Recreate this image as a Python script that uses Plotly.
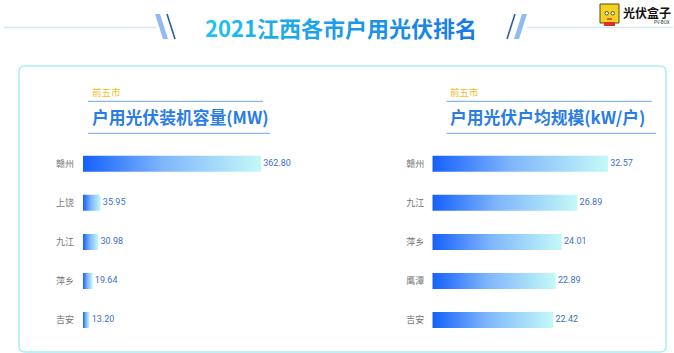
import plotly.graph_objects as go

W, H = 674, 353

# ---- data ----
title_text = "2021江西各市户用光伏排名"
sub_tag = "前五市"
left_title = "户用光伏装机容量(MW)"
left_cities = ["赣州", "上饶", "九江", "萍乡", "吉安"]
left_values = [362.80, 35.95, 30.98, 19.64, 13.20]
right_title = "户用光伏户均规模(kW/户)"
right_cities = ["赣州", "九江", "萍乡", "鹰潭", "吉安"]
right_values = [32.57, 26.89, 24.01, 22.89, 22.42]


def px(x):
    return x / W


def py(y):
    return 1 - y / H


FONT = "Noto Sans CJK SC, Roboto, sans-serif"
NUMFONT = "Roboto, Noto Sans, sans-serif"
grad = [[0, "#1560fb"], [0.45, "#7fb6fb"], [1, "#c4f9f7"]]
HALF = 0.205

fig = go.Figure()


def add_panel(values, cities, xa, ya):
    for i, v in enumerate(values):
        fig.add_trace(go.Scatter(
            x=[0, v, v, 0, 0], y=[i - HALF, i - HALF, i + HALF, i + HALF, i - HALF],
            mode="lines", fill="toself", line=dict(width=0),
            fillgradient=dict(type="horizontal", colorscale=grad),
            xaxis=xa, yaxis=ya, hoverinfo="skip", showlegend=False))
    fig.add_trace(go.Scatter(
        x=values, y=list(range(len(values))), mode="text",
        text=["\u00a0" + f"{v:.2f}" for v in values], textposition="middle right",
        textfont=dict(family=NUMFONT, size=9, color="#3b6fc4"),
        xaxis=xa, yaxis=ya, hoverinfo="skip", showlegend=False))


add_panel(left_values, left_cities, "x", "y")
add_panel(right_values, right_cities, "x2", "y2")

ydom = [py(339.65), py(144.15)]
lx0, lx1 = 83, 330
rx0, rx1 = 432.3, 662
axis_common = dict(showgrid=False, zeroline=False, showline=False, ticks="")
fig.update_layout(
    width=W, height=H, autosize=False,
    margin=dict(l=0, r=0, t=0, b=0),
    paper_bgcolor="white", plot_bgcolor="rgba(0,0,0,0)",
    xaxis=dict(domain=[px(lx0), px(lx1)], range=[0, (lx1 - lx0) / (178 / 362.8)],
               showticklabels=False, **axis_common),
    xaxis2=dict(domain=[px(rx0), px(rx1)], range=[0, (rx1 - rx0) / (175.7 / 32.57)],
                showticklabels=False, **axis_common),
    yaxis=dict(domain=ydom, range=[4.5, -0.5], anchor="x",
               tickvals=list(range(5)), ticktext=left_cities, ticklabelstandoff=8,
               tickfont=dict(family=FONT, size=9, color="#777777"), **axis_common),
    yaxis2=dict(domain=ydom, range=[4.5, -0.5], anchor="x2",
                tickvals=list(range(5)), ticktext=right_cities, ticklabelstandoff=7,
                tickfont=dict(family=FONT, size=9, color="#777777"), **axis_common),
    hovermode=False,
)

shapes = []


def line(x0, y0, x1, y1, color, width=1):
    shapes.append(dict(type="line", xref="paper", yref="paper",
                       x0=px(x0), y0=py(y0), x1=px(x1), y1=py(y1),
                       line=dict(color=color, width=width)))


def poly(pts, color):
    d = "M " + " L ".join(f"{px(a)},{py(b)}" for a, b in pts) + " Z"
    shapes.append(dict(type="path", xref="paper", yref="paper", path=d,
                       fillcolor=color, line=dict(width=0)))


# panel rounded rect
x0, y0, x1, y1, r = 19, 66, 666, 352, 6
rx, ry = r / W, r / H
X0, X1, Y0, Y1 = px(x0), px(x1), py(y0), py(y1)
path = (f"M {X0+rx},{Y0} L {X1-rx},{Y0} Q {X1},{Y0} {X1},{Y0-ry} "
        f"L {X1},{Y1+ry} Q {X1},{Y1} {X1-rx},{Y1} L {X0+rx},{Y1} "
        f"Q {X0},{Y1} {X0},{Y1+ry} L {X0},{Y0-ry} Q {X0},{Y0} {X0+rx},{Y0} Z")
shapes.append(dict(type="path", xref="paper", yref="paper", path=path,
                   line=dict(color="#a9eef4", width=1.5), layer="below"))

# header lines
line(4, 27.5, 156, 27.5, "#d3e9f2", 1.5)
line(527, 27.5, 673, 27.5, "#d3e9f2", 1.5)
# slashes
poly([(155, 14), (160, 14), (168, 39), (163, 39)], "#8fbaf4")
line(167, 14, 175, 39, "#2d5f9e", 1.6)
line(515, 14, 507, 39, "#2d5f9e", 1.6)
poly([(522, 14), (527, 14), (519, 39), (514, 39)], "#8fbaf4")

# section title lines
line(88, 101.3, 263, 101.3, "#6fa6ea", 1)
line(88, 133.3, 270, 133.3, "#6fa6ea", 1)
line(446.7, 101.3, 652, 101.3, "#6fa6ea", 1)
line(446.7, 133.3, 656, 133.3, "#6fa6ea", 1)

# logo
shapes.append(dict(type="rect", xref="paper", yref="paper",
                   x0=px(600), y0=py(23), x1=px(619), y1=py(4),
                   fillcolor="#f4d21f", line=dict(color="#5a4a10", width=1)))
shapes.append(dict(type="rect", xref="paper", yref="paper",
                   x0=px(604), y0=py(26), x1=px(615), y1=py(22),
                   fillcolor="#d8322a", line=dict(width=0)))
for ex in (605, 611):
    shapes.append(dict(type="circle", xref="paper", yref="paper",
                       x0=px(ex), y0=py(15), x1=px(ex + 3.5), y1=py(11.5),
                       fillcolor="white", line=dict(color="#333", width=0.8)))
shapes.append(dict(type="rect", xref="paper", yref="paper",
                   x0=px(607), y0=py(20), x1=px(612), y1=py(18),
                   fillcolor="#e05a50", line=dict(width=0)))

fig.update_layout(shapes=shapes)

# title with per-character gradient colour
c0 = (0x1c, 0xc4, 0xef)
c1 = (0x1a, 0x7c, 0xe6)
n = len(title_text)
parts = []
for k, ch in enumerate(title_text):
    t = k / (n - 1)
    col = tuple(round(c0[j] + (c1[j] - c0[j]) * t) for j in range(3))
    parts.append(f"<span style='color:rgb{col}'>{ch}</span>")
title_html = "<b>" + "".join(parts) + "</b>"

ann = []


def text(x, y, s, size, color, xanchor="left", family=FONT):
    ann.append(dict(xref="paper", yref="paper", x=px(x), y=py(y), text=s,
                    showarrow=False, xanchor=xanchor, yanchor="middle",
                    font=dict(family=family, size=size, color=color)))


text(340.5, 27, title_html, 22, "#1c9ff0", xanchor="center")
text(90, 92, sub_tag, 9.5, "#f2bd2a")
text(90, 117, f"<b>{left_title}</b>", 16.8, "#2a7de2")
text(448, 92, sub_tag, 9.5, "#f2bd2a")
text(448, 117, f"<b>{right_title}</b>", 16.8, "#2a7de2")
text(621, 13, "<b>光伏盒子</b>", 12, "#111111")
text(672, 22.5, "PV-BOX", 4.5, "#333333", xanchor="right", family=NUMFONT)

fig.update_layout(annotations=ann)

fig.write_html("out.html")
